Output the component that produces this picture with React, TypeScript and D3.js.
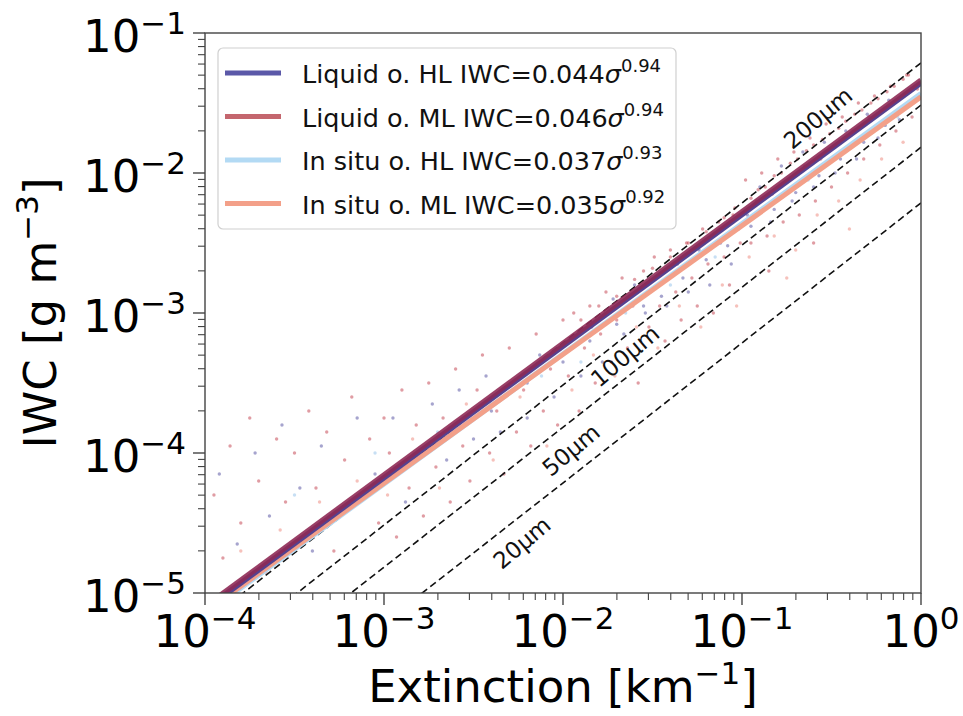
import React from "react";
import * as d3 from "d3";

// ---------- data ----------
const W = 963;
const H = 716;

const seriesNames = ["Liquid o. HL", "Liquid o. ML", "In situ o. HL", "In situ o. ML"];
const fitA = [0.044, 0.046, 0.037, 0.035];
const fitB = [0.94, 0.94, 0.93, 0.92];
const seriesColors = ["#5b58a8", "#c4666e", "#b3daf4", "#f3a089"];
const drawOrder = [2, 3, 0, 1];

// effective diameter reference lines (µm)
const refDiam = [20, 50, 100, 200];
const refLabels = ["20µm", "50µm", "100µm", "200µm"];
const refLabelSigma = [0.0059, 0.0111, 0.0222, 0.266];
const refLabelIWC = [2.28e-5, 1.05e-4, 4.93e-4, 2.47e-2];
const rhoIce = 0.917e6; // g m^-3

const xTicks = [-4, -3, -2, -1, 0];
const yTicks = [-5, -4, -3, -2, -1];

// scatter (log10 extinction, log10 IWC)
const ptsLiquidHL: [number, number][] = [
  [-3.92, -4.15], [-3.82, -4.65], [-3.72, -4.0], [-3.64, -4.45], [-3.57, -3.8], [-3.47, -4.25],
  [-3.4, -4.7], [-3.35, -3.95], [-3.25, -4.45], [-3.15, -3.75], [-3.05, -4.15],
  [-2.95, -3.75], [-2.88, -4.35], [-2.8, -4.0], [-2.73, -3.65], [-2.65, -4.05], [-2.58, -3.55],
  [-2.5, -3.9], [-2.43, -3.45], [-2.35, -3.85], [-2.28, -3.5], [-2.2, -3.75], [-2.13, -3.3], [-2.05, -3.6],
  [-1.96, -3.2], [-1.9, -3.45], [-1.84, -3.1], [-1.78, -3.35], [-1.72, -2.9], [-1.66, -3.15],
  [-1.6, -2.8], [-1.54, -3.0], [-1.48, -2.75], [-1.42, -2.95], [-1.36, -2.65], [-1.3, -2.85],
  [-1.24, -2.55], [-1.18, -2.8], [-1.12, -2.5], [-1.06, -2.65], [-1.02, -2.4],
  [-0.97, -2.3], [-0.9, -2.1], [-0.84, -2.35], [-0.78, -1.95], [-0.72, -2.2], [-0.66, -1.85],
  [-0.6, -2.1], [-0.54, -1.78], [-0.48, -2.0], [-0.42, -1.7], [-0.36, -1.9], [-0.3, -1.58],
  [-0.24, -1.75], [-0.18, -1.48], [-0.12, -1.62], [-0.06, -1.42],
  [-2.4, -3.7], [-2.2, -3.5], [-2.0, -3.35], [-1.85, -3.2], [-1.7, -3.08], [-1.55, -2.95],
  [-1.45, -2.88], [-1.33, -2.75], [-1.2, -2.62], [-1.08, -2.52], [-0.95, -2.38], [-0.82, -2.26],
  [-0.7, -2.14], [-0.57, -2.02], [-0.45, -1.9], [-0.32, -1.78], [-0.2, -1.66],
];
const ptsLiquidML: [number, number][] = [
  [-3.95, -4.3], [-3.9, -4.75], [-3.86, -3.95], [-3.8, -4.5], [-3.75, -3.75], [-3.7, -4.2],
  [-3.66, -4.85], [-3.6, -3.9], [-3.55, -4.35], [-3.5, -4.0], [-3.45, -4.6], [-3.42, -3.7],
  [-3.38, -4.25], [-3.32, -3.85], [-3.28, -4.7], [-3.22, -4.05], [-3.18, -3.6], [-3.12, -4.3],
  [-3.08, -3.9], [-3.03, -4.5], [-3.0, -3.75],
  [-2.97, -4.0], [-2.93, -4.6], [-2.9, -3.55], [-2.86, -4.25], [-2.82, -3.8], [-2.78, -4.45],
  [-2.75, -3.5], [-2.71, -4.1], [-2.67, -3.75], [-2.63, -4.35], [-2.6, -3.4], [-2.56, -3.95],
  [-2.52, -4.2], [-2.48, -3.55], [-2.45, -3.3], [-2.41, -4.0], [-2.37, -3.7], [-2.33, -4.15],
  [-2.3, -3.25], [-2.26, -3.85], [-2.22, -3.55], [-2.18, -3.95], [-2.15, -3.15], [-2.11, -3.7],
  [-2.07, -3.4], [-2.03, -3.8], [-2.0, -3.05],
  [-1.97, -3.45], [-1.94, -3.0], [-1.91, -3.7], [-1.88, -3.25], [-1.85, -2.95], [-1.82, -3.5],
  [-1.79, -3.15], [-1.76, -2.85], [-1.73, -3.35], [-1.7, -3.05], [-1.67, -2.75], [-1.64, -3.25],
  [-1.61, -2.95], [-1.58, -3.5], [-1.55, -2.7], [-1.52, -3.1], [-1.49, -2.6], [-1.46, -2.95],
  [-1.43, -3.2], [-1.4, -2.55], [-1.37, -2.85], [-1.34, -3.05], [-1.31, -2.5], [-1.28, -2.75],
  [-1.25, -2.95], [-1.22, -2.4], [-1.19, -2.65], [-1.16, -3.0], [-1.13, -2.35], [-1.1, -2.6],
  [-1.07, -2.8], [-1.04, -2.25], [-1.01, -2.5],
  [-0.98, -2.05], [-0.95, -2.5], [-0.92, -2.2], [-0.89, -2.0], [-0.86, -2.45], [-0.83, -2.15],
  [-0.8, -1.9], [-0.77, -2.35], [-0.74, -2.05], [-0.71, -1.85], [-0.68, -2.3], [-0.65, -1.95],
  [-0.62, -1.75], [-0.59, -2.2], [-0.56, -1.9], [-0.53, -1.65], [-0.5, -2.1], [-0.47, -1.8],
  [-0.44, -1.6], [-0.41, -2.0], [-0.38, -1.7], [-0.35, -1.5], [-0.32, -1.9], [-0.29, -1.6],
  [-0.26, -1.45], [-0.23, -1.8], [-0.2, -1.55], [-0.17, -1.38], [-0.14, -1.7], [-0.11, -1.45],
  [-0.08, -1.3], [-0.05, -1.6], [-0.02, -1.4], [-0.85, -2.7], [-0.6, -2.5],
  [-0.95, -2.18], [-0.91, -2.12], [-0.87, -2.1], [-0.82, -2.02], [-0.78, -2.0], [-0.73, -1.93],
  [-0.69, -1.9], [-0.64, -1.84], [-0.6, -1.8], [-0.55, -1.76], [-0.51, -1.72], [-0.46, -1.68],
  [-0.42, -1.63], [-0.37, -1.58], [-0.33, -1.55], [-0.28, -1.5], [-0.24, -1.47], [-0.19, -1.42],
  [-0.15, -1.38], [-0.1, -1.33], [-0.07, -1.3],
  [-1.9, -3.05], [-1.8, -2.95], [-1.7, -2.88], [-1.6, -2.76], [-1.5, -2.68], [-1.4, -2.6],
  [-1.3, -2.5], [-1.2, -2.42], [-1.1, -2.32], [-1.05, -2.3],
];
const ptsInsituHL: [number, number][] = [
  [-3.5, -4.3], [-3.05, -4.0], [-2.7, -3.85], [-2.4, -3.65], [-2.12, -3.45],
  [-1.9, -3.35], [-1.65, -3.0], [-1.4, -2.8], [-1.15, -2.6],
  [-0.88, -2.25], [-0.63, -2.05], [-0.38, -1.8], [-0.13, -1.6],
];
const ptsInsituML: [number, number][] = [
  [-3.8, -4.7], [-3.58, -4.55], [-3.36, -4.35], [-3.15, -4.2],
  [-2.98, -4.3], [-2.84, -3.9], [-2.69, -4.25], [-2.54, -3.65], [-2.39, -4.05], [-2.24, -3.6], [-2.09, -3.95],
  [-1.95, -3.55], [-1.83, -3.3], [-1.71, -3.45], [-1.59, -3.1], [-1.47, -3.25], [-1.35, -2.95],
  [-1.23, -3.1], [-1.11, -2.8], [-1.03, -2.95],
  [-0.96, -2.6], [-0.82, -2.45], [-0.7, -2.55], [-0.58, -2.3], [-0.46, -2.2], [-0.34, -2.05],
  [-0.22, -1.9], [-0.1, -1.78], [-0.75, -2.75], [-0.4, -2.4],
];
const scatterSets = [ptsLiquidHL, ptsLiquidML, ptsInsituHL, ptsInsituML];
const scatterColors = ["#4d4a9e", "#c23a48", "#8fc0ea", "#ee8478"];

// ---------- layout ----------
const left = 205, right = 921, top = 33, bottom = 593;
const FONT = "DejaVu Sans, Verdana, sans-serif";

export default function App() {
  const x = d3.scaleLog().domain([1e-4, 1]).range([left, right]);
  const y = d3.scaleLog().domain([1e-5, 1e-1]).range([bottom, top]);

  const minorX: number[] = [];
  xTicks.slice(0, -1).forEach((e) => {
    for (let k = 2; k <= 9; k++) minorX.push(k * Math.pow(10, e));
  });
  const minorY: number[] = [];
  yTicks.slice(0, -1).forEach((e) => {
    for (let k = 2; k <= 9; k++) minorY.push(k * Math.pow(10, e));
  });

  const sigDomain = [1e-4, 1];
  const fitPath = (i: number) => {
    const pts = sigDomain.map((s) => [x(s), y(fitA[i] * Math.pow(s, fitB[i]))]);
    return d3.line()(pts as [number, number][]) as string;
  };
  const refPath = (d: number) => {
    const c = ((rhoIce * d * 1e-6) / 3) * 1e-3;
    const pts = sigDomain.map((s) => [x(s), y(c * s)]);
    return d3.line()(pts as [number, number][]) as string;
  };

  const legendRows = [83, 126.5, 170, 213.5];

  return (
    <svg
      width={W}
      height={H}
      style={{ position: "absolute", left: 0, top: 0, background: "#fff" }}
      fontFamily={FONT}
    >
      <defs>
        <clipPath id="plotclip">
          <rect x={left} y={top} width={right - left} height={bottom - top} />
        </clipPath>
      </defs>
      <rect x={0} y={0} width={W} height={H} fill="#fff" />

      <g clipPath="url(#plotclip)">
        {scatterSets.map((set, si) =>
          set.map((p, j) => (
            <circle
              key={`s${si}-${j}`}
              cx={x(Math.pow(10, p[0]))}
              cy={y(Math.pow(10, p[1]))}
              r={1.7}
              fill={scatterColors[si]}
              opacity={0.5}
            />
          ))
        )}
        {refDiam.map((d, i) => (
          <path key={`r${i}`} d={refPath(d)} stroke="#111" strokeWidth={1.6} strokeDasharray="7,4" fill="none" />
        ))}
        {drawOrder.map((i) => (
          <path
            key={`f${i}`}
            d={fitPath(i)}
            stroke={i === 0 ? "#55418f" : i === 1 ? "#8e2a55" : seriesColors[i]}
            strokeWidth={i < 2 ? 5.5 : 5}
            fill="none"
            opacity={i === 1 ? 0.9 : 1}
          />
        ))}
      </g>

      {refLabels.map((t, i) => (
        <text
          key={`rl${i}`}
          transform={`translate(${x(refLabelSigma[i])},${y(refLabelIWC[i])}) rotate(-40)`}
          textAnchor="middle"
          dominantBaseline="central"
          fontSize={23}
          fill="#111"
        >
          {t}
        </text>
      ))}

      {/* spines */}
      <rect x={left} y={top} width={right - left} height={bottom - top} fill="none" stroke="#444" strokeWidth={1.4} />

      {/* x ticks */}
      {xTicks.map((e) => (
        <line key={`xt${e}`} x1={x(Math.pow(10, e))} x2={x(Math.pow(10, e))} y1={bottom} y2={bottom + 12} stroke="#444" strokeWidth={1.4} />
      ))}
      {minorX.map((v, i) => (
        <line key={`xm${i}`} x1={x(v)} x2={x(v)} y1={bottom} y2={bottom + 7} stroke="#444" strokeWidth={1.1} />
      ))}
      {yTicks.map((e) => (
        <line key={`yt${e}`} x1={left - 12} x2={left} y1={y(Math.pow(10, e))} y2={y(Math.pow(10, e))} stroke="#444" strokeWidth={1.4} />
      ))}
      {minorY.map((v, i) => (
        <line key={`ym${i}`} x1={left - 7} x2={left} y1={y(v)} y2={y(v)} stroke="#444" strokeWidth={1.1} />
      ))}

      {/* tick labels */}
      {xTicks.map((e) => (
        <text key={`xl${e}`} x={x(Math.pow(10, e))} y={647} textAnchor="middle" fontSize={45} fill="#000">
          10
          <tspan dy={-18} fontSize={31}>
            {e === 0 ? "0" : `−${-e}`}
          </tspan>
        </text>
      ))}
      {yTicks.map((e) => (
        <text key={`yl${e}`} x={186} y={y(Math.pow(10, e)) + 19} textAnchor="end" fontSize={45} fill="#000">
          10
          <tspan dy={-18} fontSize={31}>{`−${-e}`}</tspan>
        </text>
      ))}

      {/* axis titles */}
      <text x={(left + right) / 2} y={702} textAnchor="middle" fontSize={45} fill="#000">
        Extinction [km
        <tspan dy={-18} fontSize={31}>−1</tspan>
        <tspan dy={18}>]</tspan>
      </text>
      <text transform={`translate(56,${(top + bottom) / 2}) rotate(-90)`} textAnchor="middle" fontSize={45} fill="#000">
        IWC [g m
        <tspan dy={-18} fontSize={31}>−3</tspan>
        <tspan dy={18}>]</tspan>
      </text>

      {/* legend */}
      <rect x={218} y={48} width={458} height={181} rx={5} fill="#fff" fillOpacity={0.85} stroke="#d0d0d0" strokeWidth={1.2} />
      {seriesNames.map((n, i) => (
        <g key={`lg${i}`}>
          <line x1={225} x2={281} y1={legendRows[i] - 10} y2={legendRows[i] - 10} stroke={seriesColors[i]} strokeWidth={5} />
          <text x={302} y={legendRows[i]} fontSize={25.5} fill="#111">
            {`${n} IWC=${fitA[i].toFixed(3)}`}
            <tspan fontStyle="italic">σ</tspan>
            <tspan dy={-11} fontSize={18}>{fitB[i].toFixed(2)}</tspan>
          </text>
        </g>
      ))}
    </svg>
  );
}
